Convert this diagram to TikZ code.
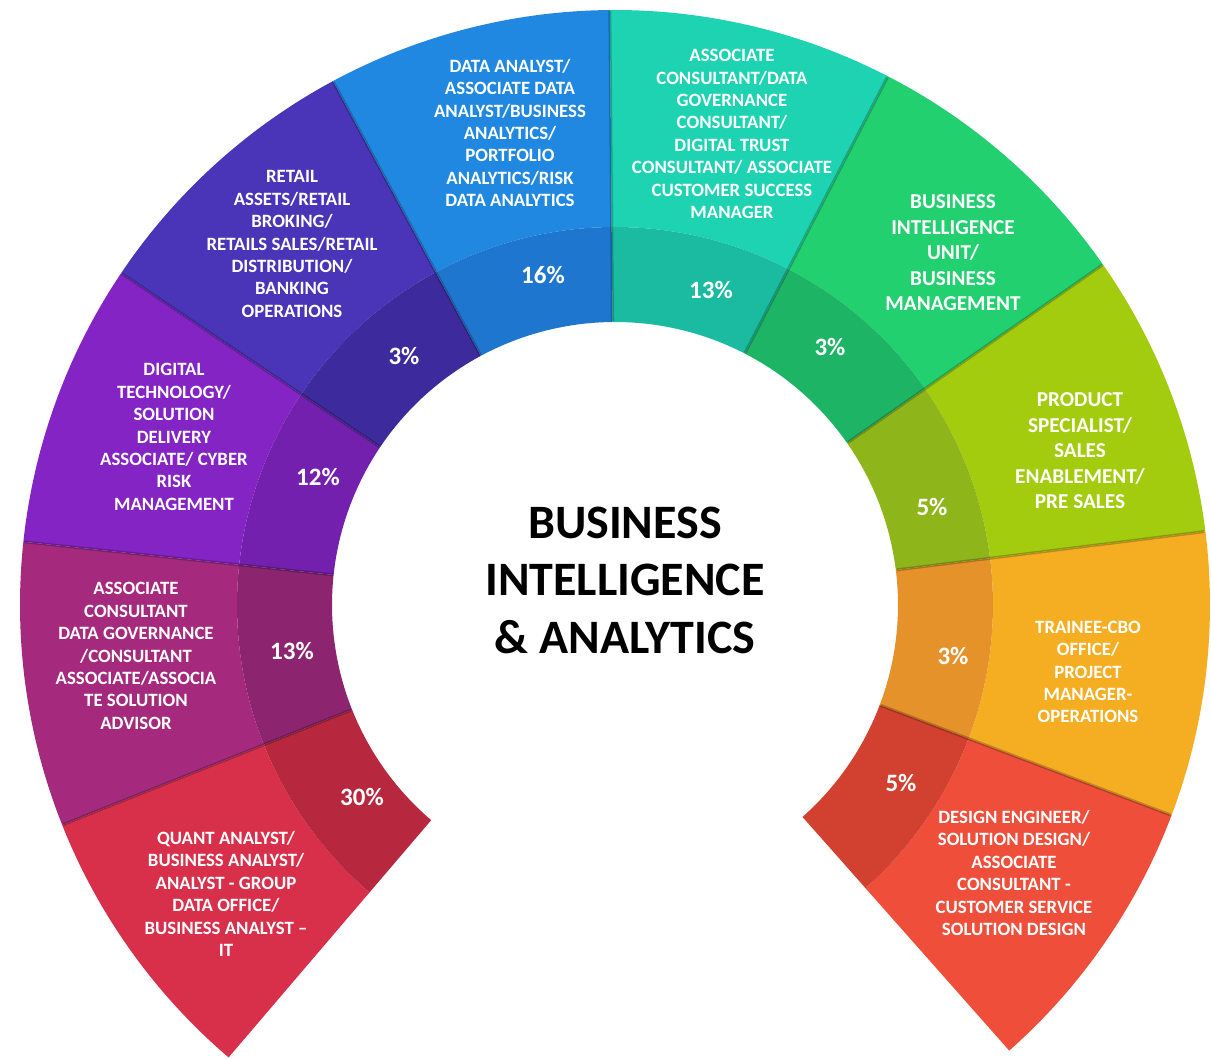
\documentclass[tikz,border=0pt]{standalone}
\usepackage{fontspec}
\setmainfont{Carlito}
\definecolor{cA}{HTML}{D8304A}\definecolor{dA}{HTML}{B7283F}
\definecolor{cB}{HTML}{A52A7E}\definecolor{dB}{HTML}{8C2470}
\definecolor{cC}{HTML}{8424C4}\definecolor{dC}{HTML}{7320AE}
\definecolor{cD}{HTML}{4A35B8}\definecolor{dD}{HTML}{3D2A9C}
\definecolor{cE}{HTML}{2088E0}\definecolor{dE}{HTML}{1E76CE}
\definecolor{cF}{HTML}{1ED3B2}\definecolor{dF}{HTML}{1ABBA0}
\definecolor{cG}{HTML}{22D070}\definecolor{dG}{HTML}{1DB466}
\definecolor{cH}{HTML}{A4CC0E}\definecolor{dH}{HTML}{8EB51A}
\definecolor{cI}{HTML}{F5AE22}\definecolor{dI}{HTML}{E6922A}
\definecolor{cJ}{HTML}{EE4E3A}\definecolor{dJ}{HTML}{D2402F}
\tikzset{
  lbl/.style={text=white, align=center, inner sep=0pt, font=\fontsize{18.8}{22.4}\selectfont\bfseries},
  lblbig/.style={lbl, font=\fontsize{21.2}{25.5}\selectfont\bfseries},
  pct/.style={text=white, inner sep=0pt, font=\fontsize{25}{28}\selectfont\bfseries},
  ttl/.style={text=black, align=center, inner sep=0pt, font=\fontsize{48}{57.5}\selectfont\bfseries},
  seam/.style={draw=black, draw opacity=0.22, line width=3pt}
}
\begin{document}
\begin{tikzpicture}[x=1pt,y=1pt]
\useasboundingbox (-615,-454) rectangle (596,605);
\foreach \o/\i [count=\k from 0] in {cA/dA,cB/dB,cC/dC,cD/dD,cE/dE,cF/dF,cG/dG,cH/dH,cI/dI,cJ/dJ} {
  \pgfmathsetmacro\aa{229.5-27.8*\k}
  \pgfmathsetmacro\ab{\aa-27.8}
  \fill[\o] (\aa:378) arc[start angle=\aa,end angle=\ab,radius=378] -- (\ab:595) arc[start angle=\ab,end angle=\aa,radius=595] -- cycle;
  \fill[\i] (\aa:283) arc[start angle=\aa,end angle=\ab,radius=283] -- (\ab:378) arc[start angle=\ab,end angle=\aa,radius=378] -- cycle;
}
\foreach \k in {1,...,9} {
  \pgfmathsetmacro\aa{229.5-27.8*\k}
  \draw[seam] (\aa:284) -- (\aa:594);
}
\node[ttl] (title) at (10,25) {BUSINESS\\INTELLIGENCE\\\& ANALYTICS};
\node[lbl] (l1) at (-389,-289) {QUANT ANALYST/\\BUSINESS ANALYST/\\ANALYST - GROUP\\DATA OFFICE/\\BUSINESS ANALYST –\\IT};
\node[pct] (p1) at (-253,-192) {30\%};
\node[lbl] (l2) at (-479,-51) {ASSOCIATE\\CONSULTANT\\DATA GOVERNANCE\\/CONSULTANT\\ASSOCIATE/ASSOCIA\\TE SOLUTION\\ADVISOR};
\node[pct] (p2) at (-323,-46) {13\%};
\node[lbl] (l3) at (-441,168) {DIGITAL\\TECHNOLOGY/\\SOLUTION\\DELIVERY\\ASSOCIATE/ CYBER\\RISK\\MANAGEMENT};
\node[pct] (p3) at (-297,128) {12\%};
\node[lbl] (l4) at (-323,361) {RETAIL\\ASSETS/RETAIL\\BROKING/\\RETAILS SALES/RETAIL\\DISTRIBUTION/\\BANKING\\OPERATIONS};
\node[pct] (p4) at (-211,249) {3\%};
\node[lbl] (l5) at (-105,472) {DATA ANALYST/\\ASSOCIATE DATA\\ANALYST/BUSINESS\\ANALYTICS/\\PORTFOLIO\\ANALYTICS/RISK\\DATA ANALYTICS};
\node[pct] (p5) at (-72,330) {16\%};
\node[lbl] (l6) at (117,471) {ASSOCIATE\\CONSULTANT/DATA\\GOVERNANCE\\CONSULTANT/\\DIGITAL TRUST\\CONSULTANT/ ASSOCIATE\\CUSTOMER SUCCESS\\MANAGER};
\node[pct] (p6) at (96,315) {13\%};
\node[lblbig] (l7) at (338,352) {BUSINESS\\INTELLIGENCE\\UNIT/\\BUSINESS\\MANAGEMENT};
\node[pct] (p7) at (215,258) {3\%};
\node[lblbig] (l8) at (465,154) {PRODUCT\\SPECIALIST/\\SALES\\ENABLEMENT/\\PRE SALES};
\node[pct] (p8) at (317,98) {5\%};
\node[lbl] (l9) at (473,-67) {TRAINEE-CBO\\OFFICE/\\PROJECT\\MANAGER-\\OPERATIONS};
\node[pct] (p9) at (338,-51) {3\%};
\node[lbl] (l10) at (399,-268) {DESIGN ENGINEER/\\SOLUTION DESIGN/\\ASSOCIATE\\CONSULTANT -\\CUSTOMER SERVICE\\SOLUTION DESIGN};
\node[pct] (p10) at (286,-178) {5\%};
\end{tikzpicture}
\end{document}
